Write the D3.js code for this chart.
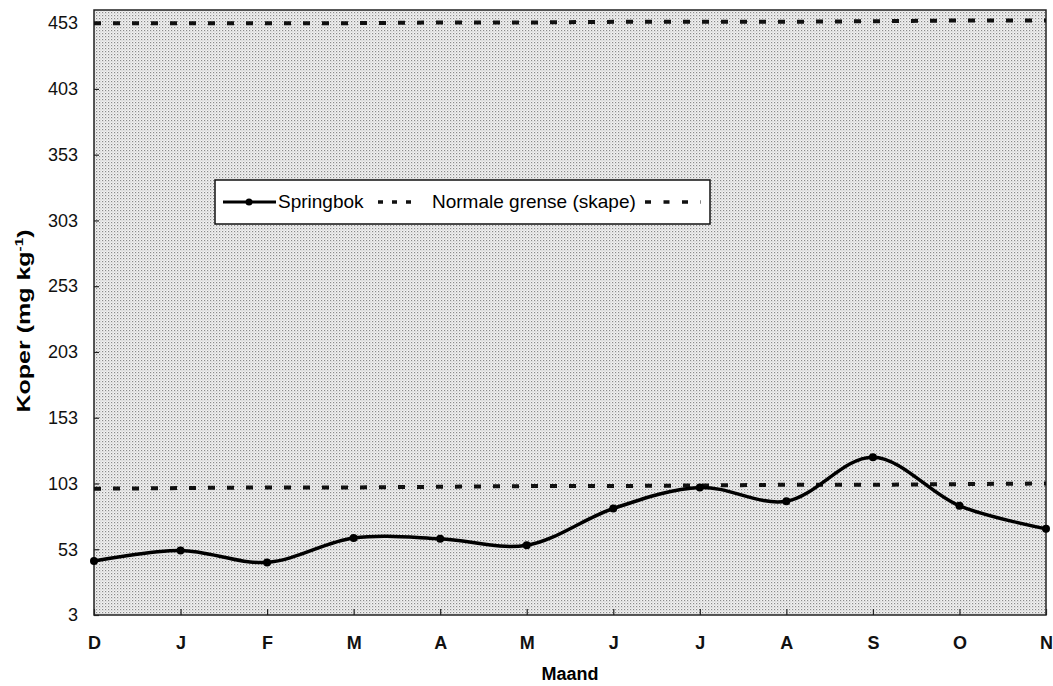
<!DOCTYPE html>
<html>
<head>
<meta charset="utf-8">
<script src="https://cdn.jsdelivr.net/npm/d3@7"></script>
<style>
  body { margin: 0; background: #fff; }
  svg text { font-family: "Liberation Sans", Arial, sans-serif; }
</style>
</head>
<body>
<svg id="chart" width="1053" height="686"></svg>
<script>
// data
const months = ["D", "J", "F", "M", "A", "M", "J", "J", "A", "S", "O", "N"];
const springbok = [44, 52, 43, 61.5, 61, 56, 84, 100, 89.5, 123, 86, 68.5];
const upperLimit = [453, 453, 453, 453, 453.5, 453.5, 454, 454, 454, 454.5, 455, 455];
const lowerLimit = [99, 99.5, 100, 100, 100.5, 101, 101, 101.5, 102, 102, 102.5, 103];
const yTicks = [3, 53, 103, 153, 203, 253, 303, 353, 403, 453];

const svg = d3.select("#chart");
const plotLeft = 94, plotRight = 1046, plotTop = 10, plotBottom = 615;

// stippled plot background
const defs = svg.append("defs");
const pat = defs.append("pattern")
  .attr("id", "stipple")
  .attr("width", 3).attr("height", 3)
  .attr("patternUnits", "userSpaceOnUse");
pat.append("rect").attr("width", 3).attr("height", 3).attr("fill", "#f2f2f2");
pat.append("rect").attr("x", 0).attr("y", 0).attr("width", 1.2).attr("height", 1.2).attr("fill", "#8a8a8a");
pat.append("rect").attr("x", 1.5).attr("y", 1.5).attr("width", 1).attr("height", 1).attr("fill", "#b5b5b5");

const x = d3.scalePoint().domain(d3.range(months.length)).range([plotLeft, plotRight]);
const y = d3.scaleLinear().domain([3, 463]).range([plotBottom, plotTop]);

svg.append("rect")
  .attr("x", plotLeft).attr("y", plotTop)
  .attr("width", plotRight - plotLeft).attr("height", plotBottom - plotTop)
  .attr("fill", "url(#stipple)")
  .attr("stroke", "#222").attr("stroke-width", 1.5);

// axes
const yAxis = svg.append("g")
  .attr("transform", `translate(${plotLeft},0)`)
  .call(d3.axisLeft(y).tickValues(yTicks).tickSize(-5).tickPadding(16));
const xAxis = svg.append("g")
  .attr("transform", `translate(0,${plotBottom})`)
  .call(d3.axisBottom(x).tickSize(-6).tickPadding(21).tickFormat((i) => months[i]));

[yAxis, xAxis].forEach((g) => {
  g.select(".domain").remove();
  g.selectAll("line").attr("stroke", "#222").attr("stroke-width", 1.2);
  g.selectAll("text").attr("font-size", 18).attr("fill", "#111");
});
xAxis.selectAll("text").attr("font-weight", "bold").attr("dy", "0.71em");

// limit lines
const line = d3.line().x((d, i) => x(i)).y((d) => y(d));
[upperLimit, lowerLimit].forEach((arr) => {
  svg.append("path")
    .attr("d", line(arr))
    .attr("fill", "none")
    .attr("stroke", "#111")
    .attr("stroke-width", 4)
    .attr("stroke-dasharray", "7,12");
});

// springbok series
const smooth = d3.line()
  .x((d, i) => x(i))
  .y((d) => y(d))
  .curve(d3.curveCatmullRom.alpha(0.5));
svg.append("path")
  .attr("d", smooth(springbok))
  .attr("fill", "none")
  .attr("stroke", "#000")
  .attr("stroke-width", 3.5);
svg.selectAll("circle.pt")
  .data(springbok)
  .join("circle")
  .attr("class", "pt")
  .attr("cx", (d, i) => x(i))
  .attr("cy", (d) => y(d))
  .attr("r", 4)
  .attr("fill", "#000");

// axis titles
svg.append("text")
  .attr("transform", "translate(30,321) rotate(-90)")
  .attr("text-anchor", "middle")
  .attr("font-size", 18)
  .attr("font-weight", "bold")
  .attr("textLength", 183)
  .attr("lengthAdjust", "spacingAndGlyphs")
  .html('Koper (mg kg<tspan dy="-7" font-size="11">-1</tspan><tspan dy="7">)</tspan>');
svg.append("text")
  .attr("x", 570).attr("y", 680)
  .attr("text-anchor", "middle")
  .attr("font-size", 18)
  .attr("font-weight", "bold")
  .text("Maand");

// legend
const lg = svg.append("g");
lg.append("rect")
  .attr("x", 215).attr("y", 180).attr("width", 495).attr("height", 44)
  .attr("fill", "#fff").attr("stroke", "#111").attr("stroke-width", 1.5);
lg.append("line")
  .attr("x1", 223).attr("x2", 276).attr("y1", 202).attr("y2", 202)
  .attr("stroke", "#000").attr("stroke-width", 3);
lg.append("circle").attr("cx", 249).attr("cy", 202).attr("r", 3.5).attr("fill", "#000");
lg.append("text").attr("x", 278).attr("y", 208).attr("font-size", 19).text("Springbok");
lg.append("line")
  .attr("x1", 378).attr("x2", 412).attr("y1", 202).attr("y2", 202)
  .attr("stroke", "#111").attr("stroke-width", 3.5).attr("stroke-dasharray", "5,9");
lg.append("text").attr("x", 432).attr("y", 208).attr("font-size", 19).text("Normale grense (skape)");
lg.append("line")
  .attr("x1", 645).attr("x2", 701).attr("y1", 202).attr("y2", 202)
  .attr("stroke", "#111").attr("stroke-width", 3.5).attr("stroke-dasharray", "6,12.5");
</script>
</body>
</html>
